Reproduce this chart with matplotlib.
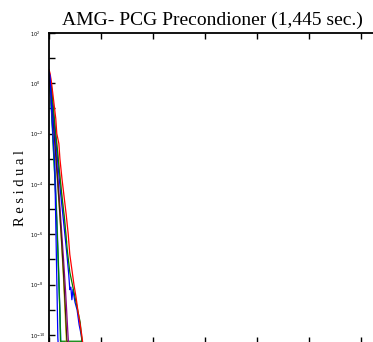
import numpy as np
import matplotlib
matplotlib.use("Agg")
import matplotlib.pyplot as plt
from matplotlib.ticker import FixedLocator, FuncFormatter

# convergence histories: iteration, log10(residual)
red_it = [0, 2, 5, 9, 13, 15, 19, 21, 25, 29, 33, 37, 40, 44, 48, 52, 56, 60, 63, 66]
red_lg = [0.55, 0.4, 0.0, -0.7, -1.4, -2.0, -2.4, -3.0, -3.8, -4.5, -5.2, -6.0, -6.8, -7.4, -8.0, -8.5, -9.1, -9.6, -10.0, -10.5]

pink_it = [0, 3, 6, 10, 14, 18, 22, 26, 30, 34]
pink_lg = [0.5, 0.2, -0.5, -1.3, -2.2, -3.0, -3.9, -4.8, -5.6, -6.3]

green_it = [0, 4, 8, 12, 16, 20, 25, 30, 35, 40, 45, 50, 55, 60, 64]
green_lg = [0.45, 0.0, -0.9, -1.8, -2.6, -3.5, -4.5, -5.4, -6.6, -7.5, -8.0, -8.5, -9.0, -9.5, -10.4]

bluew_it = [0, 3, 6, 10, 14, 18, 22, 26, 30, 34, 38, 40, 42, 44, 46, 50, 54, 58, 62, 65]
bluew_lg = [0.4, 0.0, -0.7, -1.6, -2.5, -3.4, -4.3, -5.1, -5.9, -6.7, -7.6, -8.2, -8.1, -8.6, -8.2, -8.7, -9.0, -9.6, -10.0, -10.5]

blue_it = [0, 2, 5, 8, 11, 13, 15, 17, 18]
blue_lg = [0.45, 0.3, -1.0, -2.2, -3.2, -5.5, -7.8, -10.1, -10.5]

lblue_it = [0, 3, 6, 9, 12, 15, 18, 21, 23]
lblue_lg = [0.4, -0.3, -1.4, -2.5, -3.6, -5.2, -7.0, -9.0, -10.5]

dgreen_it = [0, 3, 6, 9, 12, 15, 18, 21, 22, 62, 64]
dgreen_lg = [0.4, -0.4, -1.5, -2.8, -4.0, -5.5, -7.2, -9.2, -10.25, -10.25, -10.5]

teal_it = [0, 3, 6, 9, 12, 15, 18, 21, 23]
teal_lg = [0.4, -0.5, -1.6, -2.9, -4.1, -5.6, -7.3, -9.1, -10.5]

yellow_it = [0, 4, 8, 12, 16, 20, 24, 28, 32, 34]
yellow_lg = [0.4, -0.5, -1.6, -2.7, -3.8, -5.0, -6.3, -7.8, -9.6, -10.5]

purple_it = [0, 4, 8, 12, 16, 20, 24, 28, 32, 36, 38]
purple_lg = [0.4, -0.3, -1.3, -2.3, -3.4, -4.6, -5.8, -7.0, -8.3, -9.8, -10.5]

dark_it = [0, 4, 8, 12, 16, 20, 24, 28, 32, 35]
dark_lg = [0.4, -0.4, -1.5, -2.6, -3.7, -4.9, -6.2, -7.6, -9.2, -10.5]

series = [
    (lblue_it, lblue_lg, "#7070ff"),
    (teal_it, teal_lg, "#00a0a0"),
    (dgreen_it, dgreen_lg, "#008000"),
    (yellow_it, yellow_lg, "#c8c800"),
    (purple_it, purple_lg, "#900090"),
    (dark_it, dark_lg, "#402010"),
    (pink_it, pink_lg, "#ff8080"),
    (bluew_it, bluew_lg, "#0000ff"),
    (green_it, green_lg, "#008000"),
    (red_it, red_lg, "#ff0000"),
    (blue_it, blue_lg, "#0000ff"),
]

title = "AMG- PCG Precondioner (1,445 sec.)"
x_ticks = [0, 100, 200, 300, 400, 500, 600]
y_exps = list(range(-10, 3))

fig = plt.figure(figsize=(3.73, 3.42), dpi=100)
ax = fig.add_axes([49 / 373, -1 / 342, 326 / 373, 310 / 342])

for it, lg, c in series:
    ax.plot(it, 10.0 ** np.array(lg), color=c, lw=0.9)

ax.set_yscale("log")
ax.set_ylim(10 ** -10.32, 1e2)
ax.set_xlim(0, 627)

ax.xaxis.set_major_locator(FixedLocator(x_ticks))
ax.xaxis.set_minor_locator(FixedLocator([]))
ax.yaxis.set_major_locator(FixedLocator([10.0 ** e for e in y_exps]))
ax.yaxis.set_minor_locator(FixedLocator([]))


def ylab(v, pos):
    e = int(round(np.log10(v)))
    if e % 2:
        return ""
    return r"$10^{%d}$" % e


ax.yaxis.set_major_formatter(FuncFormatter(ylab))
ax.tick_params(axis="x", which="both", direction="in", length=4, width=1,
               top=True, bottom=True, labelbottom=False)
ax.tick_params(axis="y", direction="in", length=4, width=1, pad=14,
               labelsize=3.5, right=False)
for lab in ax.get_yticklabels():
    lab.set_family("serif")
    lab.set_horizontalalignment("left")

for s in ["left", "top"]:
    ax.spines[s].set_linewidth(1.3)
ax.spines["right"].set_visible(False)

ax.set_title(title, fontsize=14, family="Liberation Serif")
ax.text(-0.086, 0.5, "R e s i d u a l", transform=ax.transAxes, rotation=90,
        ha="center", va="center", fontsize=10.5, family="Liberation Serif")

fig.savefig("out.png", dpi=100)
